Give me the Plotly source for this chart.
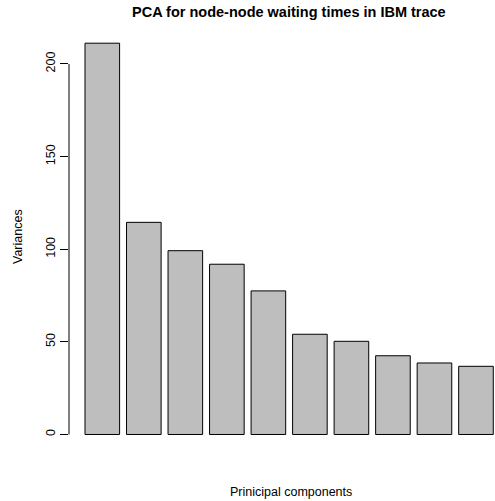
import plotly.graph_objects as go

components = ["PC1", "PC2", "PC3", "PC4", "PC5", "PC6", "PC7", "PC8", "PC9", "PC10"]
variances = [211.2, 114.5, 99.2, 91.9, 77.5, 54.1, 50.3, 42.5, 38.6, 36.8]
y_ticks = [0, 50, 100, 150, 200]
title_text = "PCA for node-node waiting times in IBM trace"
x_label = "Prinicipal components"
y_label = "Variances"

W, H = 495, 501
L, R, T, B = 69, 0, 28, 51
pw, ph = W - L - R, H - T - B

fig = go.Figure(go.Bar(
    x=components, y=variances,
    marker=dict(color="#BEBEBE", line=dict(color="black", width=1)),
))

fig.update_layout(
    width=W, height=H,
    margin=dict(l=L, r=R, t=T, b=B, autoexpand=False),
    plot_bgcolor="white", paper_bgcolor="white",
    bargap=0.2 / 1.2,
    showlegend=False,
    font=dict(family="Liberation Sans, Arial, sans-serif", size=12, color="black"),
    xaxis=dict(range=[-0.802, 9.458], showticklabels=False, showgrid=False,
               zeroline=False, showline=False, ticks="", automargin=False),
    yaxis=dict(range=[-8.37, 219.4], tickvals=y_ticks, ticktext=[str(v) for v in y_ticks],
               ticks="outside", ticklen=8, tickcolor="black", tickwidth=1,
               tickangle=-90, showgrid=False, zeroline=False, showline=False,
               ticklabelstandoff=0, automargin=False,
               tickfont=dict(size=12.5, color="black")),
    shapes=[dict(type="line", xref="paper", yref="y", x0=0, x1=0,
                 y0=y_ticks[0], y1=y_ticks[-1], line=dict(color="black", width=1))],
    annotations=[
        dict(text="<b>" + title_text + "</b>", xref="paper", yref="paper",
             x=(289 - L) / pw, y=1 + (T - 12) / ph, xanchor="center", yanchor="middle",
             showarrow=False, font=dict(size=14.5, color="black")),
        dict(text=x_label, xref="paper", yref="paper",
             x=(291 - L) / pw, y=-(492 - (T + ph)) / ph, xanchor="center", yanchor="middle",
             showarrow=False, font=dict(size=12.5, color="black")),
        dict(text=y_label, xref="paper", yref="paper", textangle=-90,
             x=(18 - L) / pw, y=(T + ph - 237) / ph, xanchor="center", yanchor="middle",
             showarrow=False, font=dict(size=12.5, color="black")),
    ],
)

fig.write_html("out.html", config={"displayModeBar": False},
               post_script="document.body.style.margin='0';document.body.style.overflow='hidden';")
